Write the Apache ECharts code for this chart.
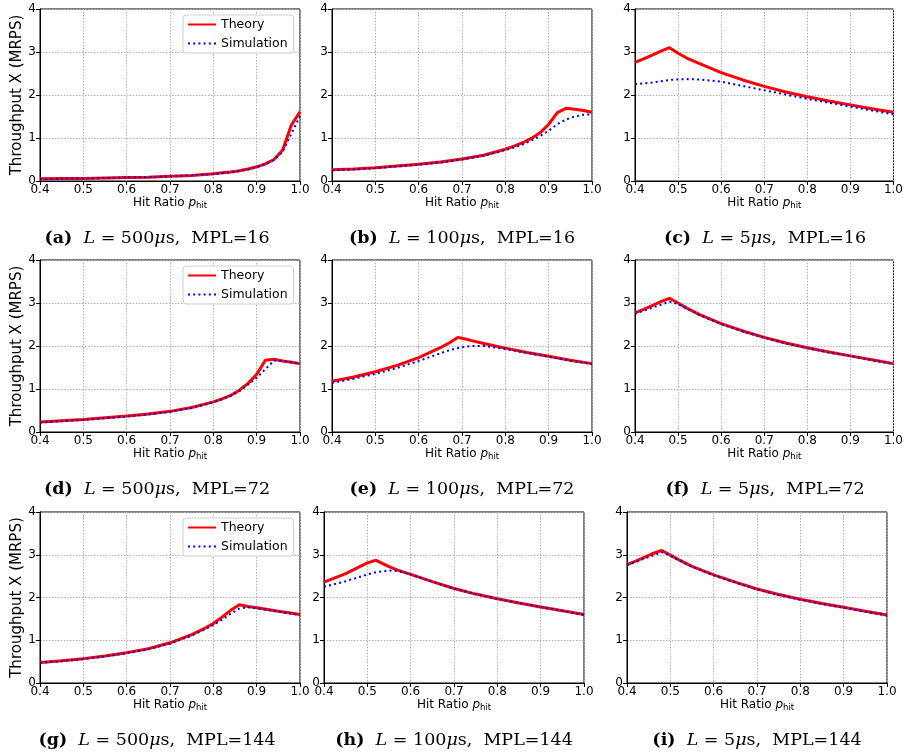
<!DOCTYPE html>
<html>
<head>
<meta charset="utf-8">
<script src="https://cdn.jsdelivr.net/npm/echarts@6/dist/echarts.min.js"></script>
<style>html,body{margin:0;padding:0;background:#fff}#c{width:906px;height:754px}</style>
</head>
<body>
<div id="c"></div>
<script>
// ---- data ----
const xTicks = [0.4, 0.5, 0.6, 0.7, 0.8, 0.9, 1.0];
const yTicks = [0, 1, 2, 3, 4];

const xa = [0.40,0.45,0.50,0.55,0.60,0.65,0.70,0.75,0.80,0.82,0.84,0.86,0.88,0.90,0.92,0.94,0.96,0.98,1.00];
const ta = [0.05,0.06,0.06,0.07,0.08,0.09,0.11,0.13,0.17,0.19,0.21,0.24,0.28,0.33,0.40,0.50,0.72,1.30,1.61];
const sa = [0.04,0.05,0.06,0.07,0.08,0.09,0.11,0.13,0.16,0.18,0.20,0.23,0.27,0.32,0.39,0.49,0.68,1.10,1.51];

const xb = [0.40,0.45,0.50,0.55,0.60,0.65,0.70,0.75,0.80,0.82,0.84,0.86,0.88,0.90,0.92,0.94,0.96,0.98,1.00];
const tb = [0.26,0.28,0.31,0.35,0.39,0.44,0.51,0.60,0.74,0.81,0.89,0.99,1.12,1.32,1.59,1.69,1.67,1.64,1.60];
const sb = [0.25,0.27,0.30,0.34,0.38,0.43,0.50,0.59,0.72,0.78,0.85,0.94,1.04,1.17,1.32,1.43,1.50,1.54,1.55];

const xc = [0.40,0.42,0.44,0.46,0.48,0.50,0.52,0.55,0.60,0.65,0.70,0.75,0.80,0.85,0.90,0.95,1.00];
const tc = [2.76,2.84,2.93,3.02,3.10,2.97,2.86,2.73,2.52,2.35,2.20,2.07,1.96,1.86,1.77,1.68,1.60];
const sc = [2.25,2.27,2.29,2.32,2.35,2.36,2.37,2.36,2.31,2.21,2.11,2.01,1.91,1.82,1.73,1.64,1.55];

const xd = [0.40,0.45,0.50,0.55,0.60,0.65,0.70,0.75,0.80,0.82,0.84,0.86,0.88,0.90,0.92,0.94,0.96,0.98,1.00];
const td = [0.23,0.26,0.29,0.33,0.37,0.42,0.48,0.57,0.70,0.77,0.85,0.97,1.13,1.34,1.67,1.69,1.65,1.62,1.59];
const sd = [0.22,0.25,0.28,0.32,0.36,0.41,0.47,0.56,0.69,0.76,0.84,0.95,1.10,1.26,1.46,1.66,1.65,1.62,1.59];

const xe = [0.40,0.45,0.50,0.55,0.60,0.63,0.65,0.67,0.69,0.70,0.72,0.75,0.80,0.85,0.90,0.95,1.00];
const te = [1.18,1.28,1.40,1.55,1.73,1.87,1.96,2.07,2.20,2.18,2.13,2.06,1.95,1.85,1.76,1.67,1.59];
const se = [1.14,1.24,1.35,1.49,1.65,1.76,1.83,1.90,1.95,1.97,2.00,2.00,1.93,1.84,1.75,1.66,1.58];

const xf = [0.40,0.42,0.44,0.46,0.48,0.50,0.52,0.55,0.60,0.65,0.70,0.75,0.80,0.85,0.90,0.95,1.00];
const tf = [2.77,2.85,2.94,3.03,3.11,3.00,2.88,2.73,2.52,2.35,2.20,2.07,1.96,1.86,1.77,1.68,1.59];
const sf = [2.75,2.82,2.89,2.96,3.03,2.98,2.87,2.72,2.51,2.34,2.19,2.06,1.95,1.85,1.76,1.67,1.58];

const xg = [0.40,0.45,0.50,0.55,0.60,0.65,0.70,0.75,0.78,0.80,0.82,0.84,0.86,0.88,0.90,0.95,1.00];
const tg = [0.48,0.52,0.57,0.63,0.71,0.80,0.94,1.13,1.28,1.39,1.54,1.70,1.83,1.79,1.76,1.68,1.60];
const sg = [0.47,0.51,0.56,0.62,0.70,0.79,0.92,1.11,1.25,1.36,1.48,1.62,1.74,1.77,1.75,1.67,1.59];

const xh = [0.40,0.45,0.50,0.52,0.55,0.57,0.60,0.65,0.70,0.75,0.80,0.85,0.90,0.95,1.00];
const th = [2.36,2.56,2.81,2.87,2.72,2.64,2.54,2.37,2.21,2.08,1.97,1.87,1.78,1.69,1.60];
const sh = [2.25,2.38,2.54,2.59,2.63,2.62,2.54,2.37,2.21,2.08,1.97,1.87,1.78,1.69,1.59];

const xi = [0.40,0.42,0.44,0.46,0.48,0.50,0.52,0.55,0.60,0.65,0.70,0.75,0.80,0.85,0.90,0.95,1.00];
const ti = [2.77,2.85,2.94,3.03,3.10,2.99,2.88,2.73,2.53,2.36,2.20,2.07,1.96,1.86,1.77,1.68,1.59];
const si = [2.76,2.83,2.91,2.98,3.06,2.98,2.87,2.72,2.52,2.35,2.19,2.06,1.95,1.85,1.76,1.67,1.58];

const seriesNames = ['Theory', 'Simulation'];
const capLetters = ['a','b','c','d','e','f','g','h','i'];
const capL = ['500','100','5','500','100','5','500','100','5'];
const capMPL = ['16','16','16','72','72','72','144','144','144'];
const yName = 'Throughput X (MRPS)';

const panelX = [xa, xb, xc, xd, xe, xf, xg, xh, xi];
const panelT = [ta, tb, tc, td, te, tf, tg, th, ti];
const panelS = [sa, sb, sc, sd, se, sf, sg, sh, si];

// ---- layout ----
const gridPos = [
  [40, 9], [332, 9], [635, 9],
  [40, 260], [332, 260], [635, 260],
  [40, 512], [324, 512], [627, 512]
];
const gridW = 260, gridH = 172;
const capY = [238, 238, 238, 489, 489, 489, 740, 740, 740];
const capX = [157, 462, 765, 157, 462, 765, 157, 454, 757];

const sans = 'DejaVu Sans';
const serif = 'DejaVu Serif';
const capSize = 17.5;

const grids = [], xAxes = [], yAxes = [], series = [], legends = [], graphics = [];
for (let k = 0; k < 9; k++) {
  grids.push({
    left: gridPos[k][0], top: gridPos[k][1], width: gridW, height: k >= 6 ? 171 : gridH,
    show: true, borderColor: '#000', borderWidth: 1, backgroundColor: 'transparent', containLabel: false
  });
  xAxes.push({
    type: 'value', gridIndex: k, min: xTicks[0], max: xTicks[xTicks.length - 1], interval: 0.1,
    name: 'Hit Ratio {p|p}{s|hit}', nameLocation: 'middle', nameGap: 12,
    nameTextStyle: {
      fontFamily: sans, fontSize: 12, color: '#000',
      rich: {
        p: { fontFamily: sans, fontStyle: 'italic', fontSize: 12, color: '#000' },
        s: { fontFamily: sans, fontSize: 8.5, color: '#000', padding: [6, 0, 0, 0] }
      }
    },
    axisLine: { show: true, lineStyle: { color: '#000', width: 1 } },
    axisTick: { show: true, length: 4, lineStyle: { color: '#000' } },
    axisLabel: { fontFamily: sans, fontSize: 12, color: '#000', margin: 3, formatter: v => v.toFixed(1) },
    splitLine: { show: true, lineStyle: { color: '#b0b0b0', type: [1.5, 1.5], width: 1 } }
  });
  yAxes.push({
    type: 'value', gridIndex: k, min: yTicks[0], max: yTicks[yTicks.length - 1], interval: 1,
    name: (k % 3 === 0) ? yName : '', nameLocation: 'middle', nameGap: 9,
    nameTextStyle: { fontFamily: sans, fontSize: 15, color: '#000' },
    axisLine: { show: true, lineStyle: { color: '#000', width: 1 } },
    axisTick: { show: true, length: 4, lineStyle: { color: '#000' } },
    axisLabel: { fontFamily: sans, fontSize: 12, color: '#000', margin: 4 },
    splitLine: { show: true, lineStyle: { color: '#b0b0b0', type: [1.5, 1.5], width: 1 } }
  });
  const xs = panelX[k];
  series.push({
    name: seriesNames[0], type: 'line', xAxisIndex: k, yAxisIndex: k, symbol: 'none', smooth: false,
    data: xs.map((x, i) => [x, panelT[k][i]]),
    lineStyle: { color: '#ff0000', width: 3 }, itemStyle: { color: '#ff0000' }, z: 2
  });
  series.push({
    name: seriesNames[1], type: 'line', xAxisIndex: k, yAxisIndex: k, symbol: 'none', smooth: false,
    data: xs.map((x, i) => [x, panelS[k][i]]),
    lineStyle: { color: '#0000ff', width: 2, type: [2, 3.2] }, itemStyle: { color: '#0000ff' }, z: 3
  });
  graphics.push({
    type: 'text', x: capX[k], y: capY[k],
    style: {
      text: '{b|(' + capLetters[k] + ')}  {i|L} {r|= ' + capL[k] + '}{i|μ}{r|s,  MPL=' + capMPL[k] + '}',
      textAlign: 'center', textVerticalAlign: 'middle', fill: '#000',
      font: capSize + 'px "' + serif + '"',
      rich: {
        b: { fontFamily: serif, fontWeight: 'bold', fontSize: capSize },
        i: { fontFamily: serif, fontStyle: 'italic', fontSize: capSize },
        r: { fontFamily: serif, fontSize: capSize }
      }
    }
  });
}
[0, 3, 6].forEach((k, j) => {
  legends.push({
    data: seriesNames, orient: 'vertical', left: 183, top: [15, 266, 518][j],
    itemWidth: 28, itemHeight: 12, itemGap: 6,
    itemStyle: { opacity: 0, borderWidth: 0 },
    backgroundColor: 'rgba(255,255,255,0.85)', borderColor: '#d0d0d0', borderWidth: 1, borderRadius: 3,
    padding: [3, 6, 3, 4],
    textStyle: { fontFamily: sans, fontSize: 12.5, color: '#000' }
  });
});

const chart = echarts.init(document.getElementById('c'), null, { renderer: 'canvas' });
chart.setOption({
  animation: false,
  backgroundColor: '#fff',
  grid: grids, xAxis: xAxes, yAxis: yAxes, series: series, legend: legends, graphic: graphics
});
</script>
</body>
</html>
